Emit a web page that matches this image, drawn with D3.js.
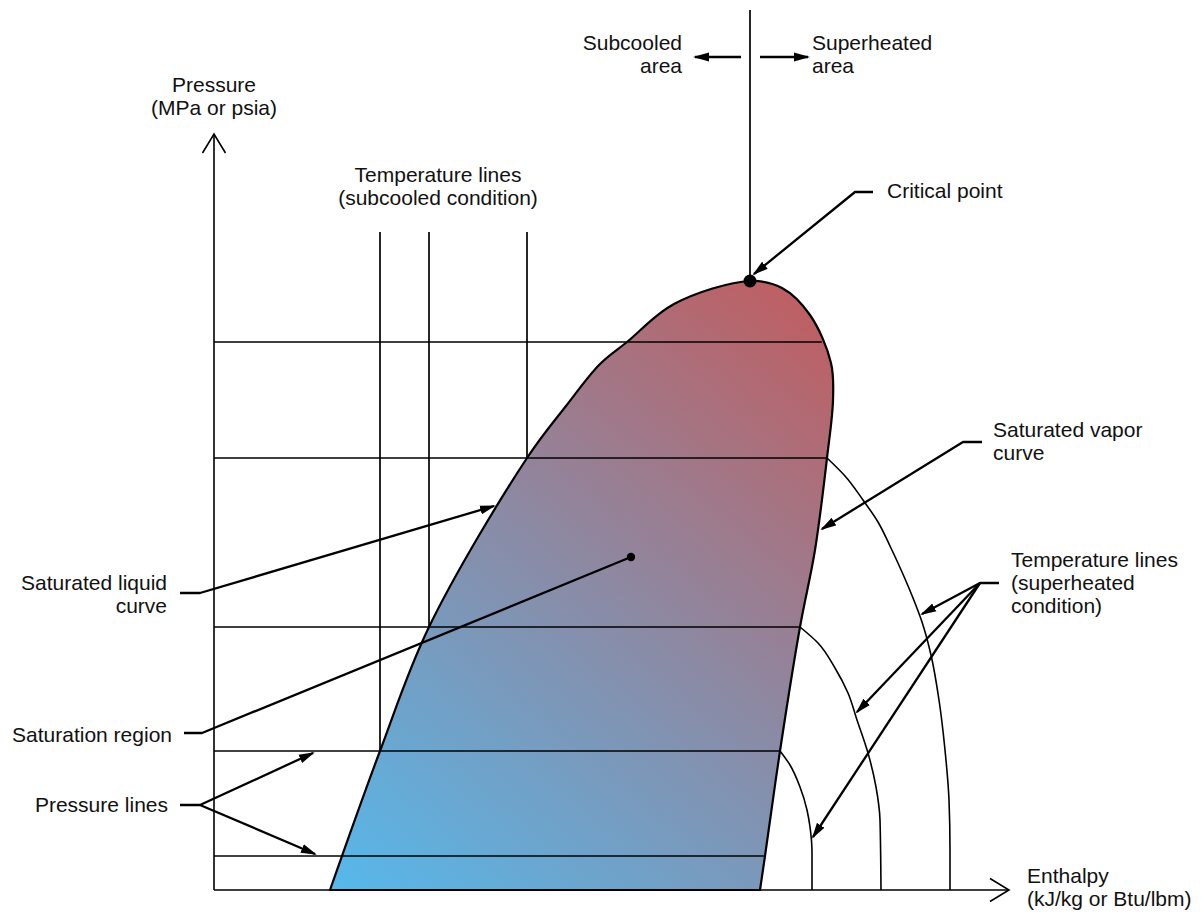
<!DOCTYPE html>
<html>
<head>
<meta charset="utf-8">
<script src="https://cdn.jsdelivr.net/npm/d3@7"></script>
<style>
  html, body { margin: 0; padding: 0; background: #fff; }
  svg { display: block; font-family: "Liberation Sans", Arial, sans-serif; }
</style>
</head>
<body>
<svg id="chart" width="1202" height="914"></svg>
<script>
// Pressure–enthalpy (P–h) diagram in relative diagram units:
// h = enthalpy (to the right), p = pressure (upwards), origin at the axes corner.

// Horizontal isobars (pressure levels)
const pressureLevels = [34, 139, 263, 432, 548];

// Vertical isotherms in the subcooled (liquid) region
const subcooledEnthalpies = [166, 215, 313];
const subcooledTop = 658;

// Saturated liquid curve, bottom up to the critical point  [h, p]
const liquidCurve = [
  [116, 0], [166, 139], [215, 263], [313, 432], [352, 484], [386, 526],
  [413, 548], [460, 586], [536, 609]
];

// Saturated vapor curve, critical point down to the axis  [h, p]
const vaporCurve = [
  [536, 609], [568, 602], [596, 575], [617, 527], [619, 490],
  [613, 432], [601, 340], [586, 263], [566, 139], [551, 34], [546, 0]
];

// Isotherms in the superheated region, each starting on the vapor curve
const superheatedHot = [
  [613, 432], [631, 414], [649, 390], [664, 368], [676, 344], [688, 318], [699, 292],
  [708, 268], [717, 235], [725, 190], [731, 140], [735, 90], [736, 40], [736, 0]
];
const superheatedMid = [
  [586, 263], [604, 247], [621, 222], [634, 197], [643, 170], [654, 137],
  [662, 103], [666, 70], [667, 0]
];
const superheatedCool = [
  [566, 139], [576, 125], [586, 103], [593, 80], [596, 63], [598, 37], [598, 0]
];

const criticalPoint = [536, 609];
const saturationPoint = [417, 333];

// Scales
const x = d3.scaleLinear().domain([0, 795]).range([214, 1009]);
const y = d3.scaleLinear().domain([0, 756]).range([890, 134]);

const svg = d3.select("#chart");
const defs = svg.append("defs");

// Filled arrowhead for the callouts
defs.append("marker")
  .attr("id", "arrow")
  .attr("viewBox", "0 0 16 10")
  .attr("refX", 14).attr("refY", 5)
  .attr("markerWidth", 16).attr("markerHeight", 10)
  .attr("markerUnits", "userSpaceOnUse")
  .attr("orient", "auto")
  .append("path").attr("d", "M0,0.5 L16,5 L0,9.5 Z").attr("fill", "#000");

// Blue (cool, low enthalpy/pressure) to red (hot, near the critical point)
const grad = defs.append("linearGradient")
  .attr("id", "domeFill")
  .attr("gradientUnits", "userSpaceOnUse")
  .attr("x1", x(116)).attr("y1", y(0))
  .attr("x2", x(619)).attr("y2", y(609));
grad.append("stop").attr("offset", 0).attr("stop-color", "#55b9ec");
grad.append("stop").attr("offset", 0.5).attr("stop-color", "#8a8ba6");
grad.append("stop").attr("offset", 1).attr("stop-color", "#c35b5c");

// Lookup helpers on the piecewise saturation curves
function hAtP(curve, p) {
  for (let i = 0; i < curve.length - 1; i++) {
    const [h0, p0] = curve[i], [h1, p1] = curve[i + 1];
    if ((p - p0) * (p - p1) <= 0 && p0 !== p1) return h0 + (h1 - h0) * (p - p0) / (p1 - p0);
  }
  return curve[curve.length - 1][0];
}
function pAtH(curve, h) {
  for (let i = 0; i < curve.length - 1; i++) {
    const [h0, p0] = curve[i], [h1, p1] = curve[i + 1];
    if ((h - h0) * (h - h1) <= 0 && h0 !== h1) return p0 + (p1 - p0) * (h - h0) / (h1 - h0);
  }
  return curve[curve.length - 1][1];
}

// Saturation dome (two-phase region)
const domeLine = d3.line().x(d => x(d[0])).y(d => y(d[1])).curve(d3.curveCatmullRom.alpha(0.5));
const domePts = liquidCurve.concat(vaporCurve.slice(1));
svg.append("path")
  .attr("d", domeLine(domePts) + "Z")
  .attr("fill", "url(#domeFill)")
  .attr("stroke", "#000").attr("stroke-width", 2.2).attr("stroke-linejoin", "round");

// Isobars from the pressure axis to the vapor curve
svg.append("g").selectAll("line").data(pressureLevels).join("line")
  .attr("x1", x(0)).attr("x2", p => x(hAtP(vaporCurve, p)))
  .attr("y1", p => y(p)).attr("y2", p => y(p))
  .attr("stroke", "#000").attr("stroke-width", 1.7);

// Subcooled isotherms down to the liquid curve
svg.append("g").selectAll("line").data(subcooledEnthalpies).join("line")
  .attr("x1", h => x(h)).attr("x2", h => x(h))
  .attr("y1", y(subcooledTop)).attr("y2", h => y(pAtH(liquidCurve, h)))
  .attr("stroke", "#000").attr("stroke-width", 1.7);

// Superheated isotherms
const isoLine = d3.line().x(d => x(d[0])).y(d => y(d[1])).curve(d3.curveMonotoneY);
svg.append("g").selectAll("path").data([superheatedHot, superheatedMid, superheatedCool]).join("path")
  .attr("d", isoLine)
  .attr("fill", "none").attr("stroke", "#000").attr("stroke-width", 1.6);

// Axes with open chevron heads
const axisG = svg.append("g").attr("stroke", "#000").attr("stroke-width", 1.6).attr("fill", "none");
axisG.append("line").attr("x1", x(0)).attr("y1", y(0)).attr("x2", x(0)).attr("y2", y(756));
axisG.append("path").attr("d", `M${x(0) - 11.5},${y(756) + 19} L${x(0)},${y(756)} L${x(0) + 11.5},${y(756) + 19}`);
axisG.append("line").attr("x1", x(0)).attr("y1", y(0)).attr("x2", x(795)).attr("y2", y(0));
axisG.append("path").attr("d", `M${x(795) - 19},${y(0) - 11.5} L${x(795)},${y(0)} L${x(795) - 19},${y(0) + 11.5}`);

// Vertical divider through the critical point
svg.append("line")
  .attr("x1", x(criticalPoint[0])).attr("x2", x(criticalPoint[0]))
  .attr("y1", y(criticalPoint[1])).attr("y2", y(880))
  .attr("stroke", "#000").attr("stroke-width", 1.7);

// Callout leaders: [points...], arrowhead on the last point when arrow = true
const callouts = [
  { pts: [[527, 833], [481, 833]], arrow: true },                 // subcooled area
  { pts: [[546, 833], [594, 833]], arrow: true },                 // superheated area
  { pts: [[659, 698], [641, 698], [540, 616]], arrow: true },     // critical point
  { pts: [[768, 448], [749, 448], [608, 361]], arrow: true },     // saturated vapor curve
  { pts: [[785, 307], [766, 307], [708, 276]], arrow: true },     // superheated isotherms
  { pts: [[766, 307], [643, 178]], arrow: true },
  { pts: [[766, 307], [599, 53]], arrow: true },
  { pts: [[-34, 297], [-14, 297], [280, 384]], arrow: true },     // saturated liquid curve
  { pts: [[-30, 157], [-12, 157], saturationPoint], arrow: false },// saturation region
  { pts: [[-34, 85], [-14, 85], [99, 137]], arrow: true },        // pressure lines
  { pts: [[-14, 85], [101, 36]], arrow: true }
];
const leader = d3.line().x(d => x(d[0])).y(d => y(d[1]));
svg.append("g").selectAll("path").data(callouts).join("path")
  .attr("d", d => leader(d.pts))
  .attr("fill", "none").attr("stroke", "#000").attr("stroke-width", 2.3)
  .attr("stroke-linejoin", "round")
  .attr("marker-end", d => d.arrow ? "url(#arrow)" : null);

// Points
svg.append("circle").attr("cx", x(criticalPoint[0])).attr("cy", y(criticalPoint[1])).attr("r", 6.5).attr("fill", "#000");
svg.append("circle").attr("cx", x(saturationPoint[0])).attr("cy", y(saturationPoint[1])).attr("r", 4.2).attr("fill", "#000");

// Text labels: anchor in diagram units, lines stacked 23px apart
const labels = [
  { at: [468, 840], anchor: "end", lines: ["Subcooled", "area"] },
  { at: [598, 840], anchor: "start", lines: ["Superheated", "area"] },
  { at: [0, 798], anchor: "middle", lines: ["Pressure", "(MPa or psia)"] },
  { at: [224, 708], anchor: "middle", lines: ["Temperature lines", "(subcooled condition)"] },
  { at: [673, 692], anchor: "start", lines: ["Critical point"] },
  { at: [779, 453], anchor: "start", lines: ["Saturated vapor", "curve"] },
  { at: [797, 323], anchor: "start", lines: ["Temperature lines", "(superheated", "condition)"] },
  { at: [-47, 300], anchor: "end", lines: ["Saturated liquid", "curve"] },
  { at: [-42, 148], anchor: "end", lines: ["Saturation region"] },
  { at: [-46, 78], anchor: "end", lines: ["Pressure lines"] },
  { at: [813, 7], anchor: "start", lines: ["Enthalpy", "(kJ/kg or Btu/lbm)"] }
];
const lg = svg.append("g").attr("font-size", 21).attr("fill", "#111");
labels.forEach(l => {
  const t = lg.append("text")
    .attr("x", x(l.at[0])).attr("y", y(l.at[1]))
    .attr("text-anchor", l.anchor);
  l.lines.forEach((s, i) => {
    t.append("tspan").attr("x", x(l.at[0])).attr("dy", i === 0 ? 0 : 23).text(s);
  });
});
</script>
</body>
</html>
